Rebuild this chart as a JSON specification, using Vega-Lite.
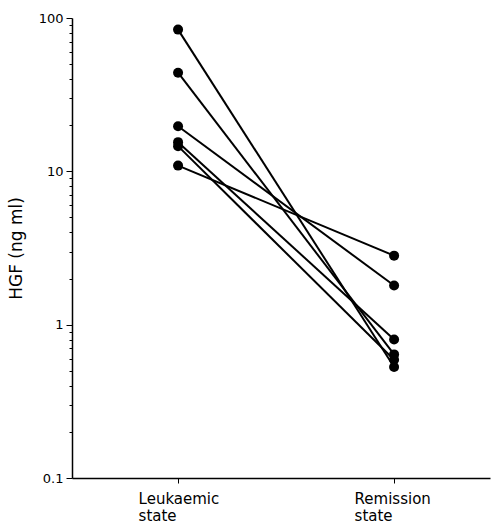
{
  "$schema": "https://vega.github.io/schema/vega-lite/v6.json",
  "autosize": "none",
  "width": 418,
  "height": 460,
  "padding": {"left": 72, "top": 18, "right": 10, "bottom": 50},
  "background": "white",
  "config": {
    "view": {"stroke": null},
    "font": "DejaVu Sans",
    "axis": {
      "domainColor": "black",
      "tickColor": "black",
      "labelColor": "black",
      "titleColor": "black",
      "grid": false,
      "labelFont": "DejaVu Sans",
      "titleFont": "DejaVu Sans",
      "titleFontWeight": "normal"
    }
  },
  "data": {
    "values": [
      {"patient": "A", "state": 1, "hgf": 84},
      {"patient": "A", "state": 2, "hgf": 0.53},
      {"patient": "B", "state": 1, "hgf": 44},
      {"patient": "B", "state": 2, "hgf": 0.64},
      {"patient": "C", "state": 1, "hgf": 19.7},
      {"patient": "C", "state": 2, "hgf": 1.8},
      {"patient": "D", "state": 1, "hgf": 15.5},
      {"patient": "D", "state": 2, "hgf": 0.8},
      {"patient": "E", "state": 1, "hgf": 14.6},
      {"patient": "E", "state": 2, "hgf": 0.59},
      {"patient": "F", "state": 1, "hgf": 10.9},
      {"patient": "F", "state": 2, "hgf": 2.82}
    ]
  },
  "encoding": {
    "x": {
      "field": "state",
      "type": "quantitative",
      "scale": {"domain": [0.509, 2.444], "nice": false, "zero": false},
      "axis": {
        "values": [1, 2],
        "title": null,
        "labelExpr": "datum.value == 1 ? ['Leukaemic', 'state'] : ['Remission', 'state']",
        "labelAlign": "left",
        "labelOffset": -40,
        "labelFontSize": 15,
        "labelLineHeight": 17,
        "labelPadding": 8,
        "tickSize": 5,
        "domainWidth": 1.5
      }
    },
    "y": {
      "field": "hgf",
      "type": "quantitative",
      "scale": {"type": "log", "domain": [0.1, 100], "nice": false},
      "axis": {
        "title": "HGF (ng ml)",
        "titleFontSize": 17,
        "titlePadding": 13,
        "values": [0.1, 0.2, 0.3, 0.4, 0.5, 0.6, 0.7, 0.8, 0.9, 1, 2, 3, 4, 5, 6, 7, 8, 9, 10, 20, 30, 40, 50, 60, 70, 80, 90, 100],
        "labelExpr": "datum.value == 100 ? '100' : datum.value == 10 ? '10' : datum.value == 1 ? '1' : datum.value == 0.1 ? '0.1' : ''",
        "labelFontSize": 13,
        "labelPadding": 3,
        "tickSize": {"condition": {"test": "datum.value == 0.1 || datum.value == 1 || datum.value == 10 || datum.value == 100", "value": 6}, "value": 3},
        "domainWidth": 1.5
      }
    }
  },
  "layer": [
    {"mark": {"type": "line", "color": "black", "strokeWidth": 2}, "encoding": {"detail": {"field": "patient"}}},
    {"mark": {"type": "point", "filled": true, "color": "black", "opacity": 1, "size": 100}}
  ]
}
